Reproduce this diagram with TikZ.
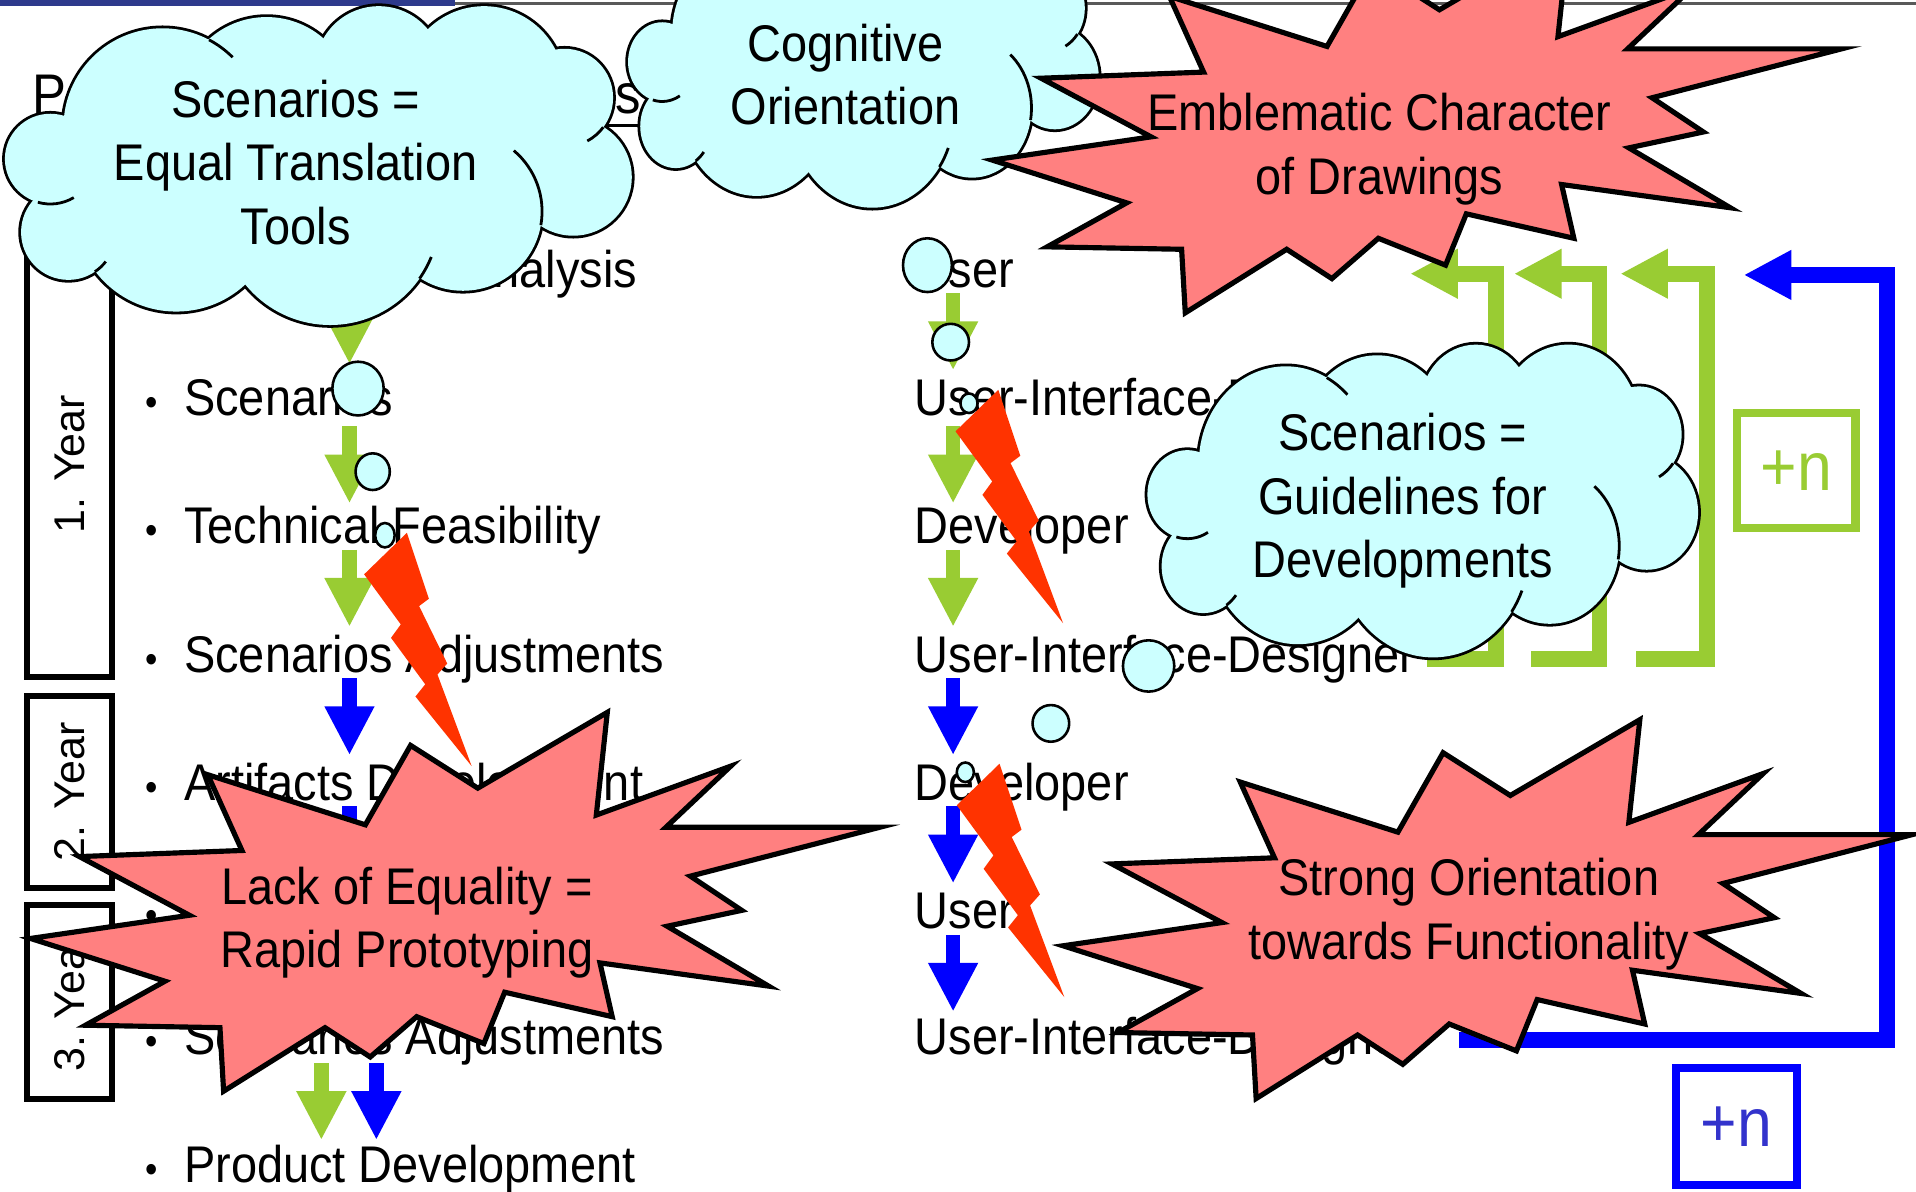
\documentclass[tikz,border=0pt]{standalone}
\usepackage{fontspec}
\setmainfont[FakeStretch=0.91]{Liberation Sans}
\newfontfamily\yearfont{Liberation Sans}
\usetikzlibrary{arrows.meta}

\definecolor{navy}{RGB}{46,58,140}
\definecolor{leaf}{RGB}{153,204,51}
\definecolor{pureblue}{RGB}{0,0,255}
\definecolor{nblue}{RGB}{51,51,204}
\definecolor{bubblecyan}{RGB}{204,255,255}
\definecolor{burstred}{RGB}{255,128,128}
\definecolor{boltred}{RGB}{255,51,0}

% outline of one lightning bolt, one explosion
\newcommand\boltshape{(333,436) -- (351,490) -- (343,496) -- (366,543) -- (358,552) -- (386,627) -- (340,570) -- (348,560) -- (320,522) -- (328,511) -- (298,470) -- cycle}
\newcommand\burstshape{(497,583) -- (488,667) -- (598,627) -- (545,677) -- (720,677) -- (565,717) -- (607,745) -- (546,758) -- (629,807) -- (491,788) -- (501,832) -- (413,812) -- (396,854) -- (341,832) -- (303,865) -- (266,841) -- (183,893) -- (180,841) -- (70,839) -- (135,803) -- (25,768) -- (155,749) -- (65,701) -- (198,696) -- (170,634) -- (299,675) -- (336,610) -- (391,645) -- cycle}
% puffs of a cloud, in its unit box, and the short inner arcs
\newcommand\cloudlobes{0.253/0.382/0.159/0.309, 0.420/0.309/0.139/0.271, 0.600/0.202/0.102/0.198, 0.769/0.256/0.129/0.252, 0.898/0.290/0.078/0.153, 0.912/0.538/0.094/0.183, 0.735/0.645/0.127/0.248, 0.522/0.660/0.175/0.340, 0.275/0.641/0.163/0.317, 0.102/0.710/0.076/0.149, 0.073/0.481/0.073/0.141}
\newcommand\cloudarcs{0.735/0.645/0.127/0.248/10/-50, 0.898/0.290/0.078/0.153/37/62, 0.253/0.382/0.159/0.309/-62/-45, 0.073/0.481/0.073/0.141/106/59, 0.102/0.710/0.076/0.149/56/38, 0.522/0.660/0.175/0.340/35/22}
\newcommand\puffcloud[4]{%
  \begin{scope}[shift={(#1,#2)}, xscale=#3, yscale=#4]
    \foreach \cx/\cy/\rx/\ry in \cloudlobes
      \draw[line width=1.3pt] (\cx,\cy) ellipse [x radius=\rx, y radius=\ry];
    \foreach \cx/\cy/\rx/\ry in \cloudlobes
      \fill[bubblecyan] (\cx,\cy) ellipse [x radius=\rx, y radius=\ry];
    \fill[bubblecyan] (0.5,0.481) ellipse [x radius=0.373, y radius=0.324];
    \foreach \cx/\cy/\rx/\ry/\a/\b in \cloudarcs {
      \pgfmathsetmacro\sx{\cx+\rx*cos(\a)}
      \pgfmathsetmacro\sy{\cy+\ry*sin(\a)}
      \draw[line width=0.65pt] (\sx,\sy) arc [start angle=\a, end angle=\b, x radius=\rx, y radius=\ry];
    }
  \end{scope}}

\begin{document}
\begin{tikzpicture}[x=0.01cm, y=-0.01cm,
    txt/.style={font=\fontsize{12}{14.8}\selectfont, inner sep=0pt},
    item/.style={txt, anchor=base west},
    dot/.style={font=\fontsize{9}{9}\selectfont, inner sep=0pt, anchor=base},
    yearbox/.style={draw, line width=1.4pt, rotate=90, minimum height=0.70cm, inner sep=0pt, font=\yearfont\fontsize{10}{12}\selectfont},
    gdown/.style={draw=leaf, line width=0.12cm, -{Triangle[length=0.40cm, width=0.38cm]}},
    bdown/.style={gdown, draw=pureblue},
    gback/.style={draw=leaf, line width=0.13cm, line join=miter, -{Triangle[length=0.39cm, width=0.38cm]}},
    bback/.style={gback, draw=pureblue},
    bubble/.style={fill=bubblecyan, draw=black, line width=0.6pt},
    burst/.style={fill=burstred, draw=black, line width=1.2pt, line join=miter},
    bolt/.style={fill=boltred},
    plusn/.style={line width=0.07cm, minimum width=0.97cm, minimum height=0.94cm, inner sep=0pt, font=\fontsize{16}{16}\selectfont}]
  \useasboundingbox (0,0) rectangle (1568,975);
  \clip (0,0) rectangle (1568,975);
  \fill[white] (0,0) rectangle (1568,975);

  % slide head
  \fill[navy] (0,0) rectangle (372,5);
  \draw[gray!70!black, line width=0.025cm] (372,3) -- (1568,3);
  \node[txt, font=\fontsize{13}{15}\selectfont, anchor=base west] (tp) at (26,93) {P};
  \node[txt, font=\fontsize{13}{15}\selectfont, anchor=base east] (tus) at (525,93) {us};
  \draw[line width=0.025cm] ([yshift=-0.1cm]tp.base west) -- ([yshift=-0.1cm]tus.base east);

  % years
  \node[yearbox, minimum width=3.48cm] (y1) at (57,380) {1. Year};
  \node[yearbox, minimum width=1.57cm] (y2) at (57,648) {2. Year};
  \node[yearbox, minimum width=1.58cm] (y3) at (57,820) {3. Year};

  % left column
  \node[txt, anchor=base east] (t1) at (522,235) {Analysis};
  \node[dot] (d2) at (124,340) {•};
  \node[item] (t2) at (150,340) {Scenarios};
  \node[dot] (d3) at (124,445) {•};
  \node[item] (t3) at (150,445) {Technical Feasibility};
  \node[dot] (d4) at (124,550) {•};
  \node[item] (t4) at (150,550) {Scenarios Adjustments};
  \node[dot] (d5) at (124,655) {•};
  \node[item] (t5) at (150,655) {Artifacts Development};
  \node[dot] (d6) at (124,760) {•};
  \node[dot] (d7) at (124,863) {•};
  \node[item] (t7) at (150,863) {Scenarios Adjustments};
  \node[dot] (d8) at (124,968) {•};
  \node[item] (t8) at (150,968) {Product Development};

  % right column
  \node[item] (r1) at (748,235) {User};
  \node[item] (r2) at (748,340) {User-Interface-Designer};
  \node[item] (r3) at (748,445) {Developer};
  \node[item] (r4) at (748,550) {User-Interface-Designer};
  \node[item] (r5) at (748,655) {Developer};
  \node[item] (r6) at (748,760) {User};
  \node[item] (r7) at (748,863) {User-Interface-Designer};

  % steps
  \draw[gdown] (286,235) -- (286,298);
  \draw[gdown] (286,349) -- (286,412);
  \draw[gdown] (286,450) -- (286,513);
  \draw[bdown] (286,555) -- (286,618);
  \draw[bdown] (286,660) -- (286,723);
  \draw[bdown] (286,765) -- (286,828);
  \draw[gdown] (263,870) -- (263,933);
  \draw[bdown] (308,870) -- (308,933);
  \draw[gdown] (780,240) -- (780,303);
  \draw[gdown] (780,349) -- (780,412);
  \draw[gdown] (780,450) -- (780,513);
  \draw[bdown] (780,555) -- (780,618);
  \draw[bdown] (780,660) -- (780,723);
  \draw[bdown] (780,765) -- (780,828);

  % loops back
  \draw[gback] (1168,539) -- (1224,539) -- (1224,224) -- (1154,224);
  \draw[gback] (1253,539) -- (1309,539) -- (1309,224) -- (1239,224);
  \draw[gback] (1339,539) -- (1397,539) -- (1397,224) -- (1326,224);
  \draw[bback] (1194,851) -- (1544,851) -- (1544,225) -- (1427,225);
  \node[plusn, draw=leaf, text=leaf] (pg) at (1470,385) {+n};
  \node[plusn, draw=pureblue, text=nblue, line width=0.065cm, minimum width=0.99cm, minimum height=0.96cm] (pb) at (1421,922) {+n};

  % breaks
  \fill[bolt] \boltshape;
  \fill[bolt, shift={(484,-117)}] \boltshape;
  \fill[bolt, shift={(485,189)}] \boltshape;

  % thought bubbles
  \filldraw[bubble] (293,318) ellipse [x radius=21, y radius=22];
  \filldraw[bubble] (305,386) ellipse [x radius=14, y radius=15];
  \filldraw[bubble] (315,438) ellipse [x radius=8, y radius=10];
  \filldraw[bubble] (759,217) ellipse [x radius=20, y radius=22];
  \filldraw[bubble] (778,280) ellipse [x radius=15, y radius=15];
  \filldraw[bubble] (793,330) ellipse [x radius=7, y radius=8];
  \filldraw[bubble] (940,545) ellipse [x radius=21, y radius=21];
  \filldraw[bubble] (860,592) ellipse [x radius=15, y radius=15];
  \filldraw[bubble] (790,632) ellipse [x radius=7, y radius=8];

  \puffcloud{4}{4}{510}{262}
  \node[txt, align=center] (cA) at (242,133) {Scenarios =\\Equal Translation\\Tools};
  \puffcloud{514}{-60}{383}{230}
  \node[txt, align=center] (cB) at (692,61) {Cognitive\\Orientation};
  \puffcloud{939}{281}{448}{257}
  \node[txt, align=center] (cC) at (1148,410) {Scenarios =\\Guidelines for\\Developments};

  % explosions
  \filldraw[burst, shift={(787,-637)}] \burstshape;
  \node[txt, align=center] (bE) at (1129,122) {Emblematic Character\\of Drawings};
  \filldraw[burst] \burstshape;
  \node[txt, align=center] (bL) at (333,755) {Lack of Equality =\\Rapid Prototyping};
  \filldraw[burst, shift={(845,6)}] \burstshape;
  \node[txt, align=center] (bS) at (1202,748) {Strong Orientation\\towards Functionality};
\end{tikzpicture}
\end{document}
